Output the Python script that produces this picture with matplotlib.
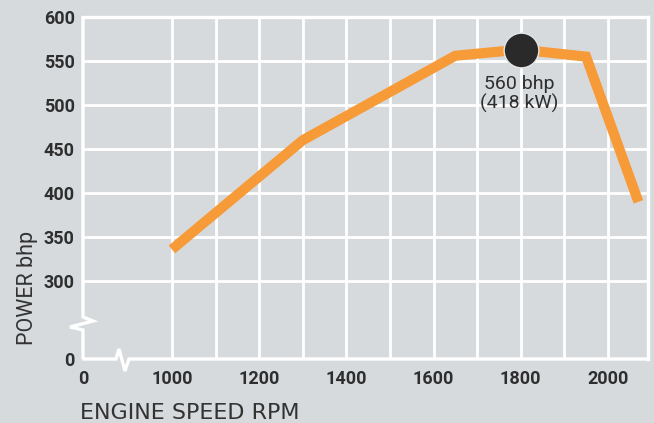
import numpy as np
import matplotlib
matplotlib.use("Agg")
import matplotlib.pyplot as plt

# ---- data ----
rpm = [1000, 1300, 1650, 1800, 1950, 2070]
power_bhp = [336, 460, 556, 563, 555, 390]
peak_rpm = 1800
peak_bhp = 563
peak_label = "560 bhp"
peak_label_kw = "(418 kW)"
x_ticks = [0, 1000, 1200, 1400, 1600, 1800, 2000]
x_tick_labels = ["0", "1000", "1200", "1400", "1600", "1800", "2000"]
y_ticks = [0, 300, 350, 400, 450, 500, 550, 600]
y_tick_labels = ["0", "300", "350", "400", "450", "500", "550", "600"]
x_label = "ENGINE SPEED RPM"
y_label = "POWER bhp"

# ---- style ----
BG = "#d7dadd"
ORANGE = "#f79a38"
TEXT = "#2e2e2e"
W, H = 654, 423

# broken-axis scales
KX, KY = 0.204, 0.295
def fx(v):
    v = np.asarray(v, dtype=float)
    return np.where(v >= 1000, v, 1000 - (1000 - v) * KX)
def ix(v):
    v = np.asarray(v, dtype=float)
    return np.where(v >= 1000, v, 1000 - (1000 - v) / KX)
def fy(v):
    v = np.asarray(v, dtype=float)
    return np.where(v >= 300, v, 300 - (300 - v) * KY)
def iy(v):
    v = np.asarray(v, dtype=float)
    return np.where(v >= 300, v, 300 - (300 - v) / KY)

fig = plt.figure(figsize=(W / 100, H / 100), dpi=100, facecolor=BG)
AX_L, AX_R, AX_T, AX_B = 83, 648, 17, 359
ax = fig.add_axes([AX_L / W, (H - AX_B) / H, (AX_R - AX_L) / W, (AX_B - AX_T) / H])
ax.set_facecolor(BG)
ax.set_xscale("function", functions=(fx, ix))
ax.set_yscale("function", functions=(fy, iy))
ax.set_xlim(0, 2092)
ax.set_ylim(0, 600)

# grid
for v in range(1000, 2001, 100):
    ax.plot([v, v], [0, 600], color="white", lw=2.0, zorder=1, solid_capstyle="butt")
for v in range(300, 551, 50):
    ax.plot([0, 2092], [v, v], color="white", lw=2.0, zorder=1, solid_capstyle="butt")

for s in ["left", "bottom"]:
    ax.spines[s].set_visible(False)
for s in ["top", "right"]:
    ax.spines[s].set_color("white")
    ax.spines[s].set_linewidth(2.4)

def px2ax(pts):
    return ([(p[0] - AX_L) / (AX_R - AX_L) for p in pts],
            [(AX_B - p[1]) / (AX_B - AX_T) for p in pts])

left_frame = [(83, 16), (83, 317), (93, 321), (70, 327), (83, 330), (83, 359)]
bottom_frame = [(82, 359), (116, 359), (119, 349), (125, 371), (129, 359), (649, 359)]
for pts in (left_frame, bottom_frame):
    xs, ys = px2ax(pts)
    ax.plot(xs, ys, transform=ax.transAxes, color="white", lw=2.4, zorder=2,
            clip_on=False, solid_joinstyle="miter", solid_capstyle="butt")

# data line
ax.plot(rpm, power_bhp, color=ORANGE, lw=7.3, zorder=3,
        solid_joinstyle="miter", solid_capstyle="butt")
ax.plot([peak_rpm], [peak_bhp], "o", ms=25, color="#2a2a2a",
        mec="#e4e6e8", mew=1.0, zorder=4)
ax.annotate(peak_label, (peak_rpm, peak_bhp), xytext=(-1, -28.5), textcoords="offset points",
            ha="center", va="baseline", fontsize=14, family="Roboto", color=TEXT, zorder=5)
ax.annotate(peak_label_kw, (peak_rpm, peak_bhp), xytext=(-1, -42.3), textcoords="offset points",
            ha="center", va="baseline", fontsize=14, family="Roboto", color=TEXT, zorder=5)

# ticks
ax.set_xticks(x_ticks)
ax.set_xticklabels(x_tick_labels)
ax.set_yticks(y_ticks)
ax.set_yticklabels(y_tick_labels)
ax.minorticks_off()
ax.tick_params(axis="both", length=0, colors=TEXT, labelsize=13)
ax.tick_params(axis="x", pad=8)
ax.tick_params(axis="y", pad=6)
for t in ax.get_xticklabels() + ax.get_yticklabels():
    t.set_fontfamily("Roboto")
    t.set_fontweight("bold")

fig.text(80 / W, (H - 419) / H, x_label, ha="left", va="baseline",
         fontsize=16, family="DejaVu Sans", color="#333333")
fig.text(27 / W, (H - 288) / H, y_label, ha="center", va="center", rotation=90,
         fontsize=15.5, family="Roboto", color="#333333")

fig.savefig("out.png", dpi=100, facecolor=BG)
